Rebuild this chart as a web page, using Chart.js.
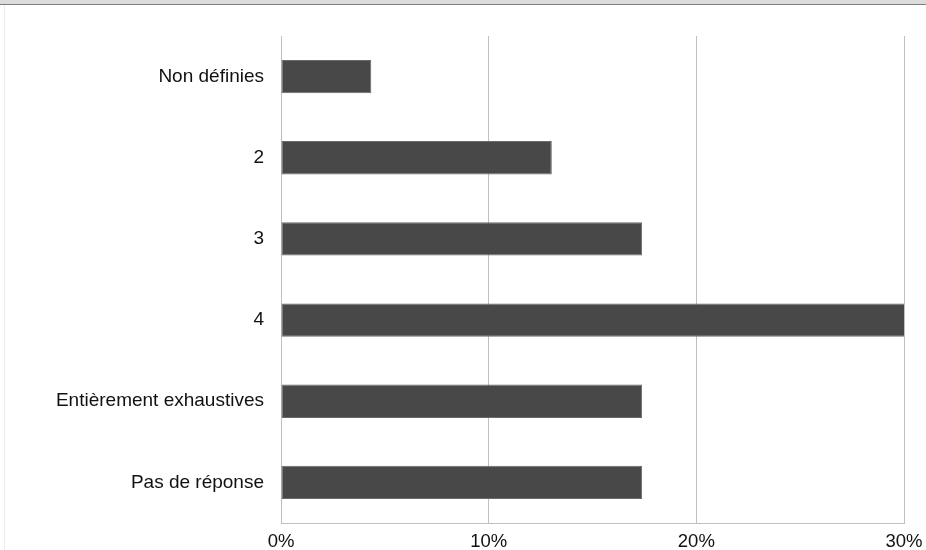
<!DOCTYPE html>
<html>
<head>
<meta charset="utf-8">
<script src="https://cdn.jsdelivr.net/npm/chart.js@4/dist/chart.umd.min.js"></script>
<style>
  html, body { margin: 0; padding: 0; background: #ffffff; }
  #frame { position: relative; width: 926px; height: 550px; overflow: hidden; }
  #topbar { position: absolute; left: 0; top: 0; width: 926px; height: 4px; background: #dcdcdc; border-bottom: 1px solid #7f7f7f; z-index: 2; }
  #leftline { position: absolute; left: 4px; top: 5px; width: 1px; height: 545px; background: #ececec; z-index: 2; }
  #wrap { position: absolute; left: 0; top: 0; width: 926px; height: 550px; }
</style>
</head>
<body>
<div id="frame">
  <div id="topbar"></div>
  <div id="leftline"></div>
  <div id="wrap"><canvas id="chart" width="926" height="550"></canvas></div>
</div>
<script>
// Share of answers per category (%)
const categories = ['Non définies', '2', '3', '4', 'Entièrement exhaustives', 'Pas de réponse'];
const shares = [4.35, 13.04, 17.39, 30.43, 17.39, 17.39];
const xTicks = [0, 10, 20, 30];

new Chart(document.getElementById('chart'), {
  type: 'bar',
  data: {
    labels: categories,
    datasets: [{
      data: shares,
      backgroundColor: '#484848',
      borderColor: '#6a6a6a',
      borderWidth: 1,
      borderSkipped: false,
      barPercentage: 0.41,
      categoryPercentage: 1.0
    }]
  },
  options: {
    indexAxis: 'y',
    responsive: false,
    animation: false,
    layout: { padding: { top: 36, right: 22, left: 0, bottom: 0 } },
    plugins: { legend: { display: false }, tooltip: { enabled: false } },
    scales: {
      x: {
        min: 0,
        max: 30,
        afterBuildTicks: (axis) => { axis.ticks = xTicks.map(v => ({ value: v })); },
        afterFit: (axis) => {
          axis.height = 27;
          axis.paddingLeft = 0;
          axis.paddingRight = 0;
        },
        grid: { color: '#bfbfbf', drawTicks: false, lineWidth: 1 },
        border: { color: '#bfbfbf' },
        ticks: {
          padding: 8,
          color: '#111111',
          font: { family: 'Liberation Sans, Arial, sans-serif', size: 18.5 },
          callback: (v) => v + '%',
          maxRotation: 0
        }
      },
      y: {
        afterFit: (axis) => {
          axis.width = 281;
          axis.paddingTop = 0;
          axis.paddingBottom = 0;
        },
        grid: { display: false, drawTicks: false },
        border: { color: '#bfbfbf' },
        ticks: {
          padding: 17,
          color: '#111111',
          font: { family: 'Liberation Sans, Arial, sans-serif', size: 19 }
        }
      }
    }
  }
});
</script>
</body>
</html>
